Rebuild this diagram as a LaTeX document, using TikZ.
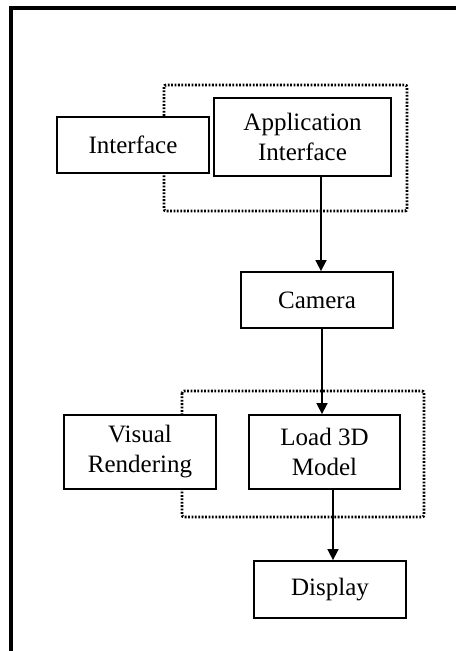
\documentclass[tikz,border=0pt]{standalone}
\usepackage{fontspec}
\setmainfont{Liberation Serif}
\usetikzlibrary{arrows.meta}
\begin{document}
\begin{tikzpicture}[x=1pt,y=-1pt,
  box/.style={draw=black,line width=1.8pt,fill=white,align=center,inner sep=0pt,
    font=\fontsize{25}{30}\selectfont},
  grp/.style={draw=black,line width=2.8pt,dash pattern=on 1.8pt off 1.6pt,rounded corners=2pt},
  arr/.style={draw=black,line width=1.6pt,-{Triangle[length=11pt,width=11pt]}},
  frame/.style={draw=black,line width=4pt}]
\useasboundingbox (0,0) rectangle (456,651);
\draw[frame] (11,651) -- (11,8) -- (456,8);
% groups
\draw[grp] (164,85) rectangle (407,211);
\draw[grp] (182,391) rectangle (424,517);
% boxes
\node[box,minimum width=152pt,minimum height=56pt] (iface) at (133,145) {Interface};
\node[box,minimum width=177pt,minimum height=78pt] (appif) at (302.5,137) {Application\\Interface};
\node[box,minimum width=152pt,minimum height=56pt] (cam) at (317,300) {Camera};
\node[box,minimum width=152pt,minimum height=74pt] (vis) at (140,452) {Visual\\Rendering};
\node[box,minimum width=151pt,minimum height=74pt] (load) at (324.5,452) {Load 3D\\Model};
\node[box,minimum width=152pt,minimum height=57pt] (disp) at (330,589.5) {Display};
% arrows
\coordinate (c1) at (321,0);
\coordinate (c2) at (322,0);
\coordinate (c3) at (333,0);
\draw[arr] (appif.south -| c1) -- (cam.north -| c1);
\draw[arr] (cam.south -| c2) -- (load.north -| c2);
\draw[arr] (load.south -| c3) -- (disp.north -| c3);
\end{tikzpicture}
\end{document}
